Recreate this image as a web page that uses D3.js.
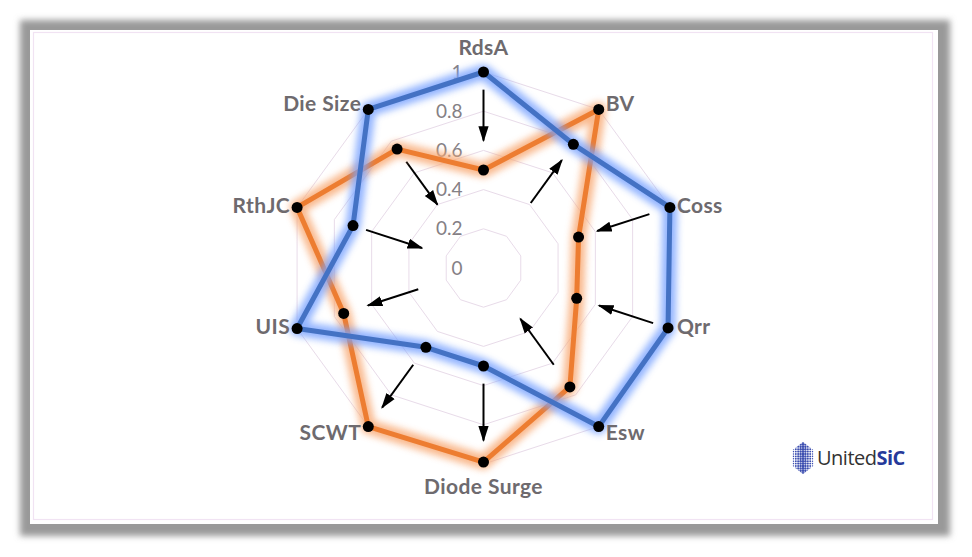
<!DOCTYPE html>
<html>
<head>
<meta charset="utf-8">
<script src="https://cdn.jsdelivr.net/npm/d3@7"></script>
<style>
  body { margin: 0; background: #fff; }
  svg { display: block; }
</style>
</head>
<body>
<div id="radar"></div>
<script>
// chart data
var axes = ["RdsA", "BV", "Coss", "Qrr", "Esw", "Diode Surge", "SCWT", "UIS", "RthJC", "Die Size"];
var blueValues = [1.0, 0.78, 1.0, 0.99, 1.0, 0.5, 0.5, 1.0, 0.7, 1.0];
var orangeValues = [0.5, 1.0, 0.51, 0.5, 0.75, 0.99, 1.0, 0.75, 1.0, 0.75];
// arrows drawn along each axis (start value -> end value)
var arrowFrom = [0.91, 0.41, 0.89, 0.91, 0.61, 0.59, 0.61, 0.35, 0.63, 0.67];
var arrowTo = [0.65, 0.68, 0.61, 0.62, 0.32, 0.88, 0.88, 0.62, 0.33, 0.40];
var tickValues = [0, 0.2, 0.4, 0.6, 0.8, 1];

var width = 972, height = 557;
var cx = 483.5, cy = 268, R = 196;

var svg = d3.select("#radar")
    .append("svg")
    .attr("width", width)
    .attr("height", height);

var defs = svg.append("defs");

defs.append("filter").attr("id", "shadow")
    .attr("x", "-5%").attr("y", "-5%").attr("width", "110%").attr("height", "110%")
    .append("feGaussianBlur").attr("stdDeviation", 3);

defs.append("filter").attr("id", "glow")
    .attr("x", "-20%").attr("y", "-20%").attr("width", "140%").attr("height", "140%")
    .append("feGaussianBlur").attr("stdDeviation", 3.5);

defs.append("marker")
    .attr("id", "arrowhead")
    .attr("viewBox", "0 0 10 10")
    .attr("refX", 9).attr("refY", 5)
    .attr("markerWidth", 8).attr("markerHeight", 8)
    .attr("markerUnits", "strokeWidth")
    .attr("orient", "auto")
    .append("path")
    .attr("d", "M0,1.8 L10,5 L0,8.2 Z")
    .attr("fill", "#000");

// frame with grey shadow
svg.append("rect")
    .attr("x", 20).attr("y", 20)
    .attr("width", 930).attr("height", 516)
    .attr("fill", "#999")
    .attr("filter", "url(#shadow)");
svg.append("rect")
    .attr("x", 30).attr("y", 30)
    .attr("width", 908).attr("height", 494)
    .attr("fill", "#fff");
svg.append("rect")
    .attr("x", 33.5).attr("y", 32.5)
    .attr("width", 899).attr("height", 487)
    .attr("fill", "none")
    .attr("stroke", "#f1e3f3")
    .attr("stroke-width", 1.2);

var g = svg.append("g")
    .attr("transform", "translate(" + cx + "," + cy + ")");

var r = d3.scaleLinear().domain([0, 1]).range([0, R]);
var angle = d3.scaleLinear().domain([0, axes.length]).range([0, 2 * Math.PI]);

function px(i, v) { return r(v) * Math.sin(angle(i)); }
function py(i, v) { return -r(v) * Math.cos(angle(i)); }

// grid rings
var ringLine = d3.lineRadial()
    .angle(function (d, i) { return angle(i); })
    .radius(function (d) { return r(d); })
    .curve(d3.curveLinearClosed);

g.append("g")
    .selectAll("path")
    .data(tickValues.filter(function (t) { return t > 0; }))
    .enter()
    .append("path")
    .attr("d", function (t) { return ringLine(axes.map(function () { return t; })); })
    .attr("fill", "none")
    .attr("stroke", "#e8dbe9")
    .attr("stroke-width", 1);

// tick labels
g.append("g")
    .selectAll("text")
    .data(tickValues)
    .enter()
    .append("text")
    .attr("x", -21)
    .attr("y", function (t) { return -r(t); })
    .attr("dy", "0.35em")
    .attr("text-anchor", "end")
    .style("font", "19px Lato, 'Open Sans', sans-serif")
    .style("fill", "#858085")
    .text(function (t) { return String(t); });

// arrows
g.append("g")
    .selectAll("line")
    .data(axes)
    .enter()
    .append("line")
    .attr("x1", function (d, i) { return px(i, arrowFrom[i]); })
    .attr("y1", function (d, i) { return py(i, arrowFrom[i]); })
    .attr("x2", function (d, i) { return px(i, arrowTo[i]); })
    .attr("y2", function (d, i) { return py(i, arrowTo[i]); })
    .attr("stroke", "#000")
    .attr("stroke-width", 2)
    .attr("marker-end", "url(#arrowhead)");

// series
var series = [
    { values: orangeValues, color: "#ed7d31", glow: "#f8a872" },
    { values: blueValues, color: "#4472c4", glow: "#78a2ff" }
];

var seriesLine = d3.lineRadial()
    .angle(function (d, i) { return angle(i); })
    .radius(function (d) { return r(d); })
    .curve(d3.curveLinearClosed);

series.forEach(function (s) {
    var sg = g.append("g");
    sg.append("path")
        .attr("d", seriesLine(s.values))
        .attr("fill", "none")
        .attr("stroke", s.glow)
        .attr("stroke-width", 15)
        .attr("stroke-linejoin", "round")
        .attr("opacity", 0.8)
        .attr("filter", "url(#glow)");
    sg.append("path")
        .attr("d", seriesLine(s.values))
        .attr("fill", "none")
        .attr("stroke", s.color)
        .attr("stroke-width", 5)
        .attr("stroke-linejoin", "round");
    sg.selectAll("circle")
        .data(s.values)
        .enter()
        .append("circle")
        .attr("cx", function (d, i) { return px(i, d); })
        .attr("cy", function (d, i) { return py(i, d); })
        .attr("r", 5.5)
        .attr("fill", "#000");
});

// axis labels
g.append("g")
    .selectAll("text")
    .data(axes)
    .enter()
    .append("text")
    .attr("x", function (d, i) {
        var s = Math.sin(angle(i));
        var x = px(i, 1);
        if (Math.abs(s) < 0.01) return x;
        return s > 0 ? x + 7 : x - 7;
    })
    .attr("y", function (d, i) {
        var c = Math.cos(angle(i));
        var y = py(i, 1);
        if (Math.abs(Math.sin(angle(i))) < 0.01) return c > 0 ? y - 24 : y + 23;
        if (c > 0.7) return y - 6;
        if (c < -0.7) return y + 6;
        return y - 2;
    })
    .attr("dy", "0.35em")
    .attr("text-anchor", function (d, i) {
        var s = Math.sin(angle(i));
        if (Math.abs(s) < 0.01) return "middle";
        return s > 0 ? "start" : "end";
    })
    .style("font", "bold 21px Lato, 'Open Sans', sans-serif")
    .style("letter-spacing", "0.4px")
    .style("fill", "#6e6a6e")
    .text(function (d) { return d; });

// logo
var logo = svg.append("g").attr("transform", "translate(803,458)");
var hex = d3.range(6).map(function (k) {
    var a = Math.PI / 3 * k;
    return [12 * Math.sin(a), -16 * Math.cos(a)];
});
defs.append("clipPath").attr("id", "hexclip")
    .append("polygon").attr("points", hex.map(function (p) { return p.join(","); }).join(" "));
var dots = [];
for (var yy = -16; yy <= 16; yy += 2.4) {
    for (var xx = -12; xx <= 12; xx += 2.4) {
        dots.push([xx, yy]);
    }
}
logo.append("g")
    .attr("clip-path", "url(#hexclip)")
    .selectAll("circle")
    .data(dots)
    .enter()
    .append("circle")
    .attr("cx", function (d) { return d[0]; })
    .attr("cy", function (d) { return d[1]; })
    .attr("r", function (d) { return 0.7 + 0.6 * (1 - Math.abs(d[0]) / 12); })
    .attr("fill", "#3d4fb0");
var logoText = logo.append("text")
    .attr("x", 14).attr("y", 0)
    .attr("dy", "0.35em")
    .style("font", "20px 'Open Sans', sans-serif")
    .style("letter-spacing", "-0.5px");
logoText.append("tspan").style("fill", "#333").text("United");
logoText.append("tspan").style("fill", "#26399a").style("font-weight", "bold").text("SiC");
</script>
</body>
</html>
